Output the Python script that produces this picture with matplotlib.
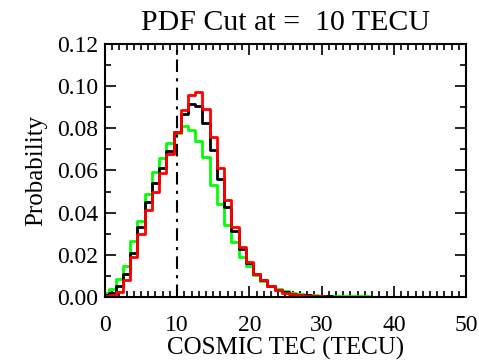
import numpy as np
import matplotlib
matplotlib.use("Agg")
import matplotlib.pyplot as plt
from matplotlib.ticker import MultipleLocator

plt.rcParams["font.family"] = ["Liberation Serif", "DejaVu Serif"]

# TEC bin centres (TECU) and probabilities
tec = np.arange(0, 51)

green = [0.002, 0.004, 0.0087, 0.0146, 0.0264, 0.036, 0.0486, 0.0594, 0.0657, 0.0728,
         0.0776, 0.081, 0.079, 0.074, 0.0665, 0.053, 0.044, 0.034, 0.026, 0.019,
         0.0145, 0.0105, 0.0075, 0.0052, 0.0037, 0.0027, 0.0020, 0.0015, 0.0011, 0.0008,
         0.0006, 0.0005, 0.0004, 0.0004, 0.0003, 0.0003, 0.0003, 0.0002, 0.0002, 0.0002,
         0.0002, 0.0002, 0.0001, 0.0001, 0.0001, 0.0001, 0.0001, 0.0001, 0.0001, 0.0001,
         0.0001]
black = [0.001, 0.002, 0.005, 0.011, 0.021, 0.033, 0.045, 0.054, 0.061, 0.069,
         0.078, 0.087, 0.0915, 0.0905, 0.0823, 0.0697, 0.056, 0.0427, 0.0315, 0.0225,
         0.016, 0.011, 0.0078, 0.0050, 0.0033, 0.0022, 0.0015, 0.0010, 0.0007, 0.0005,
         0.0004, 0.0003, 0.0002, 0.0002, 0.0001, 0.0001, 0.0001, 0.0001, 0.0001, 0.0,
         0.0, 0.0, 0.0, 0.0, 0.0, 0.0, 0.0, 0.0, 0.0, 0.0,
         0.0]
red = [0.0005, 0.001, 0.0025, 0.008, 0.019, 0.030, 0.041, 0.050, 0.059, 0.068,
       0.078, 0.0887, 0.0958, 0.097, 0.089, 0.076, 0.061, 0.046, 0.033, 0.0237,
       0.0166, 0.0111, 0.0079, 0.0050, 0.0032, 0.0021, 0.0014, 0.0009, 0.0006, 0.0004,
       0.0003, 0.0002, 0.0002, 0.0001, 0.0001, 0.0001, 0.0001, 0.0, 0.0, 0.0,
       0.0, 0.0, 0.0, 0.0, 0.0, 0.0, 0.0, 0.0, 0.0, 0.0,
       0.0]

cut = 10

fig = plt.figure(figsize=(4.79, 3.63), dpi=100)
ax = fig.add_axes([0.219, 0.182, 0.754, 0.697])

ax.step(tec, green, where="mid", color="#00ff00", lw=2)
ax.step(tec, black, where="mid", color="black", lw=2)
ax.step(tec, red, where="mid", color="#ff0000", lw=2)
ax.axvline(cut, color="black", lw=1.5, linestyle=(0, (6, 3, 1.5, 3)))

ax.set_xlim(0, 50)
ax.set_ylim(0, 0.12)
ax.xaxis.set_major_locator(MultipleLocator(10))
ax.xaxis.set_minor_locator(MultipleLocator(1))
ax.yaxis.set_major_locator(MultipleLocator(0.02))
ax.yaxis.set_minor_locator(MultipleLocator(0.01))
ax.yaxis.set_major_formatter(matplotlib.ticker.FormatStrFormatter("%.2f"))
ax.tick_params(which="both", direction="in", top=True, right=True,
               labelsize=17, width=1.2)
ax.tick_params(which="major", length=8)
ax.tick_params(which="minor", length=4)
ax.tick_params(axis="x", which="major", pad=13)
ax.tick_params(axis="y", which="major", pad=5)
for s in ax.spines.values():
    s.set_linewidth(1.5)

ax.set_xlabel("COSMIC TEC (TECU)", fontsize=18, labelpad=1)
ax.set_ylabel("Probability", fontsize=18, labelpad=7)
ax.set_title("PDF Cut at =  %d TECU" % cut, fontsize=21.5, pad=10)

fig.savefig("out.png", dpi=100)
